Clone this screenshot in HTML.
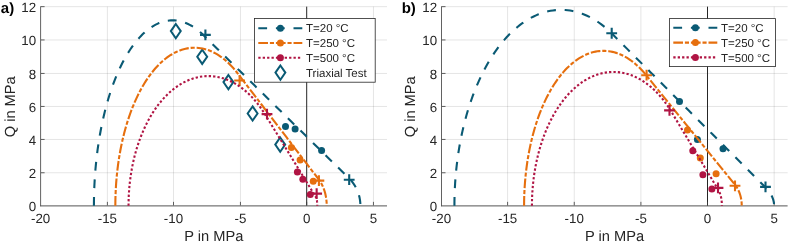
<!DOCTYPE html>
<html><head><meta charset="utf-8"><title>Yield surfaces</title>
<style>
html,body{margin:0;padding:0;background:#fff;}
svg{display:block;will-change:transform;transform:translateZ(0);}
text{font-family:"Liberation Sans",Arial,sans-serif;fill:#262626;text-rendering:geometricPrecision;}
.tk{font-size:13.33px;}
.lb{font-size:14.67px;}
.lg{font-size:11.5px;}
.pl{font-size:15px;font-weight:bold;fill:#000;}
.ax{fill:none;stroke:#3a3a3a;stroke-width:0.8;}
.gr{stroke:#262626;stroke-opacity:0.15;stroke-width:0.8;}
</style></head><body>
<svg width="789" height="243" viewBox="0 0 789 243">
<rect width="789" height="243" fill="#fff"/>
<line x1="107.4" y1="6.65" x2="107.4" y2="205.75" class="gr"/>
<line x1="173.5" y1="6.65" x2="173.5" y2="205.75" class="gr"/>
<line x1="240.45" y1="6.65" x2="240.45" y2="205.75" class="gr"/>
<line x1="373.45" y1="6.65" x2="373.45" y2="205.75" class="gr"/>
<line x1="40.6" y1="172.75" x2="387.0" y2="172.75" class="gr"/>
<line x1="40.6" y1="139.45" x2="387.0" y2="139.45" class="gr"/>
<line x1="40.6" y1="106.45" x2="387.0" y2="106.45" class="gr"/>
<line x1="40.6" y1="73.45" x2="387.0" y2="73.45" class="gr"/>
<line x1="40.6" y1="39.95" x2="387.0" y2="39.95" class="gr"/>
<line x1="40.6" y1="6.65" x2="387.0" y2="6.65" class="gr"/>
<line x1="306.7" y1="6.65" x2="306.7" y2="205.75" stroke="#262626" stroke-width="1"/>
<path d="M40.6,6.25V206.25" class="ax"/>
<path d="M40.2,205.9H387.0" fill="none" stroke="#555" stroke-width="1"/>
<line x1="107.4" y1="205.35" x2="107.4" y2="201.85" class="ax"/>
<line x1="173.5" y1="205.35" x2="173.5" y2="201.85" class="ax"/>
<line x1="240.45" y1="205.35" x2="240.45" y2="201.85" class="ax"/>
<line x1="306.7" y1="205.35" x2="306.7" y2="201.85" class="ax"/>
<line x1="373.45" y1="205.35" x2="373.45" y2="201.85" class="ax"/>
<line x1="41.0" y1="172.75" x2="44.6" y2="172.75" class="ax"/>
<line x1="41.0" y1="139.45" x2="44.6" y2="139.45" class="ax"/>
<line x1="41.0" y1="106.45" x2="44.6" y2="106.45" class="ax"/>
<line x1="41.0" y1="73.45" x2="44.6" y2="73.45" class="ax"/>
<line x1="41.0" y1="39.95" x2="44.6" y2="39.95" class="ax"/>
<line x1="41.0" y1="6.65" x2="44.6" y2="6.65" class="ax"/>
<path d="M175.80,24.00L180.75,31.10L175.80,38.20L170.85,31.10Z" stroke="#0a5a74" stroke-width="2.0" fill="none" stroke-linejoin="miter"/>
<path d="M202.20,49.70L207.15,56.80L202.20,63.90L197.25,56.80Z" stroke="#0a5a74" stroke-width="2.0" fill="none" stroke-linejoin="miter"/>
<path d="M228.40,75.00L233.35,82.10L228.40,89.20L223.45,82.10Z" stroke="#0a5a74" stroke-width="2.0" fill="none" stroke-linejoin="miter"/>
<path d="M252.60,106.40L257.55,113.50L252.60,120.60L247.65,113.50Z" stroke="#0a5a74" stroke-width="2.0" fill="none" stroke-linejoin="miter"/>
<path d="M280.20,137.50L285.15,144.60L280.20,151.70L275.25,144.60Z" stroke="#0a5a74" stroke-width="2.0" fill="none" stroke-linejoin="miter"/>
<path d="M93.92,205.75 L93.94,201.70 L94.00,197.65 L94.09,193.61 L94.22,189.57 L94.39,185.54 L94.60,181.52 L94.84,177.51 L95.12,173.52 L95.44,169.53 L95.79,165.57 L96.18,161.63 L96.61,157.71 L97.07,153.81 L97.57,149.93 L98.11,146.08 L98.68,142.26 L99.28,138.47 L99.92,134.71 L100.60,130.99 L101.31,127.30 L102.05,123.65 L102.83,120.04 L103.64,116.47 L104.48,112.94 L105.36,109.46 L106.27,106.02 L107.21,102.63 L108.18,99.29 L109.18,96.00 L110.21,92.76 L111.27,89.58 L112.36,86.45 L113.48,83.38 L114.63,80.36 L115.81,77.41 L117.01,74.52 L118.24,71.69 L119.49,68.92 L120.77,66.22 L122.08,63.59 L123.41,61.02 L124.76,58.53 L126.14,56.10 L127.53,53.74 L128.95,51.46 L130.39,49.25 L131.85,47.12 L133.33,45.06 L134.83,43.08 L136.34,41.17 L137.88,39.34 L139.43,37.60 L140.99,35.93 L142.57,34.35 L144.17,32.84 L145.78,31.42 L147.40,30.08 L149.03,28.83 L150.68,27.66 L152.33,26.57 L154.00,25.57 L155.67,24.66 L157.35,23.83 L159.04,23.09 L160.74,22.44 L162.44,21.87 L164.14,21.40 L165.85,21.01 L167.57,20.70 L169.28,20.49 L171.00,20.37 L172.72,20.33 L174.43,20.38 L176.15,20.52 L177.87,20.75 L179.58,21.06 L181.29,21.47 L182.99,21.96 L184.69,22.54 L186.39,23.21 L188.08,23.96 L189.76,24.81 L191.43,25.73 L193.09,26.75 L194.74,27.85 L196.39,29.03 L198.02,30.30 L199.64,31.65 L201.24,33.09 L202.84,34.60 L210.14,41.78 L217.45,48.96 L224.75,56.14 L232.06,63.32 L239.36,70.50 L246.67,77.68 L253.97,84.86 L261.28,92.04 L268.58,99.22 L275.89,106.40 L283.20,113.58 L290.50,120.76 L297.81,127.94 L305.11,135.12 L312.42,142.30 L319.72,149.48 L327.03,156.65 L334.33,163.83 L341.64,171.01 L348.94,178.19 L349.65,178.91 L350.35,179.65 L351.02,180.41 L351.67,181.18 L352.31,181.98 L352.92,182.79 L353.51,183.61 L354.07,184.46 L354.62,185.32 L355.14,186.19 L355.64,187.08 L356.12,187.98 L356.57,188.89 L357.00,189.82 L357.41,190.76 L357.79,191.71 L358.14,192.67 L358.47,193.64 L358.78,194.62 L359.05,195.60 L359.31,196.60 L359.53,197.60 L359.73,198.60 L359.91,199.61 L360.05,200.63 L360.17,201.65 L360.27,202.67 L360.34,203.70 L360.38,204.72 L360.39,205.75" fill="none" stroke="#0a5a74" stroke-width="2.1" stroke-dasharray="8.8 8.8"/>
<path d="M200.00,34.90H210.80M205.40,29.50V40.30" stroke="#0a5a74" stroke-width="2.1" fill="none"/>
<path d="M343.80,179.70H354.60M349.20,174.30V185.10" stroke="#0a5a74" stroke-width="2.1" fill="none"/>
<circle cx="285.50" cy="126.60" r="3.5" fill="#0a5a74"/>
<circle cx="295.10" cy="129.00" r="3.5" fill="#0a5a74"/>
<circle cx="321.60" cy="150.60" r="3.5" fill="#0a5a74"/>
<path d="M115.35,205.75 L115.37,201.97 L115.44,198.20 L115.56,194.43 L115.71,190.67 L115.92,186.91 L116.16,183.17 L116.46,179.44 L116.79,175.72 L117.17,172.02 L117.60,168.35 L118.07,164.69 L118.58,161.05 L119.14,157.44 L119.74,153.86 L120.38,150.31 L121.06,146.79 L121.79,143.30 L122.56,139.85 L123.37,136.44 L124.22,133.07 L125.11,129.73 L126.03,126.45 L127.00,123.20 L128.01,120.01 L129.05,116.86 L130.14,113.76 L131.25,110.72 L132.41,107.73 L133.60,104.79 L134.82,101.92 L136.08,99.10 L137.37,96.35 L138.70,93.65 L140.06,91.02 L141.44,88.46 L142.86,85.96 L144.31,83.53 L145.79,81.17 L147.29,78.89 L148.82,76.67 L150.38,74.53 L151.96,72.46 L153.57,70.47 L155.20,68.56 L156.85,66.72 L158.52,64.97 L160.21,63.29 L161.93,61.70 L163.66,60.19 L165.41,58.76 L167.18,57.41 L168.96,56.15 L170.76,54.98 L172.57,53.89 L174.39,52.89 L176.22,51.98 L178.07,51.15 L179.92,50.41 L181.78,49.76 L183.65,49.20 L185.53,48.73 L187.41,48.35 L189.29,48.06 L191.18,47.85 L193.07,47.74 L194.96,47.72 L196.85,47.79 L198.74,47.95 L200.62,48.20 L202.51,48.54 L204.39,48.97 L206.26,49.49 L208.12,50.09 L209.98,50.79 L211.83,51.57 L213.67,52.45 L215.50,53.41 L217.31,54.46 L219.12,55.59 L220.91,56.81 L222.68,58.11 L224.44,59.50 L226.18,60.98 L227.90,62.53 L229.60,64.17 L231.29,65.89 L232.95,67.68 L234.59,69.56 L236.21,71.52 L237.80,73.55 L241.84,78.83 L245.88,84.12 L249.92,89.40 L253.96,94.69 L258.00,99.97 L262.04,105.26 L266.08,110.54 L270.12,115.83 L274.16,121.11 L278.20,126.40 L282.24,131.68 L286.28,136.97 L290.32,142.25 L294.36,147.54 L298.40,152.82 L302.44,158.11 L306.48,163.39 L310.52,168.68 L314.56,173.96 L318.60,179.25 L319.10,179.93 L319.59,180.62 L320.06,181.34 L320.53,182.07 L320.97,182.83 L321.41,183.60 L321.83,184.39 L322.23,185.19 L322.62,186.02 L322.99,186.85 L323.34,187.70 L323.68,188.57 L324.00,189.45 L324.31,190.34 L324.59,191.25 L324.86,192.16 L325.12,193.09 L325.35,194.02 L325.57,194.97 L325.76,195.92 L325.94,196.88 L326.11,197.85 L326.25,198.82 L326.37,199.80 L326.48,200.79 L326.56,201.77 L326.63,202.77 L326.68,203.76 L326.71,204.75 L326.71,205.75" fill="none" stroke="#e66f0e" stroke-width="2.1" stroke-dasharray="9.7 1.9 4.1 1.9"/>
<path d="M234.20,80.50H245.00M239.60,75.10V85.90" stroke="#e66f0e" stroke-width="2.1" fill="none"/>
<path d="M313.50,180.60H324.30M318.90,175.20V186.00" stroke="#e66f0e" stroke-width="2.1" fill="none"/>
<circle cx="291.40" cy="147.50" r="3.5" fill="#e66f0e"/>
<circle cx="300.10" cy="160.00" r="3.5" fill="#e66f0e"/>
<circle cx="313.25" cy="181.30" r="3.5" fill="#e66f0e"/>
<path d="M128.53,205.75 L128.56,202.35 L128.64,198.96 L128.78,195.57 L128.97,192.19 L129.21,188.82 L129.51,185.46 L129.87,182.11 L130.28,178.78 L130.74,175.47 L131.25,172.18 L131.82,168.91 L132.44,165.67 L133.11,162.45 L133.84,159.27 L134.61,156.11 L135.44,152.99 L136.32,149.91 L137.24,146.86 L138.22,143.86 L139.24,140.90 L140.31,137.98 L141.42,135.11 L142.59,132.28 L143.80,129.51 L145.05,126.79 L146.34,124.13 L147.68,121.52 L149.06,118.96 L150.48,116.47 L151.94,114.04 L153.44,111.67 L154.98,109.37 L156.55,107.13 L158.16,104.96 L159.80,102.86 L161.48,100.83 L163.19,98.87 L164.93,96.98 L166.70,95.17 L168.49,93.44 L170.32,91.78 L172.17,90.20 L174.05,88.70 L175.95,87.28 L177.87,85.94 L179.81,84.69 L181.77,83.51 L183.76,82.42 L185.75,81.42 L187.77,80.50 L189.79,79.67 L191.84,78.92 L193.89,78.26 L195.95,77.69 L198.02,77.20 L200.10,76.80 L202.18,76.50 L204.27,76.28 L206.36,76.15 L208.45,76.10 L210.54,76.15 L212.63,76.29 L214.72,76.51 L216.80,76.83 L218.88,77.23 L220.94,77.72 L223.01,78.30 L225.06,78.96 L227.10,79.71 L229.12,80.55 L231.14,81.48 L233.13,82.49 L235.11,83.58 L237.07,84.76 L239.02,86.02 L240.94,87.37 L242.84,88.79 L244.71,90.30 L246.56,91.88 L248.38,93.54 L250.18,95.28 L251.95,97.10 L253.69,98.99 L255.39,100.95 L257.07,102.99 L258.71,105.09 L260.31,107.27 L261.89,109.51 L263.42,111.82 L264.92,114.19 L267.47,118.35 L270.03,122.51 L272.59,126.68 L275.15,130.84 L277.70,135.00 L280.26,139.17 L282.82,143.33 L285.38,147.49 L287.93,151.65 L290.49,155.82 L293.05,159.98 L295.61,164.14 L298.16,168.30 L300.72,172.47 L303.28,176.63 L305.84,180.79 L308.39,184.95 L310.95,189.12 L313.51,193.28 L316.07,197.44 L316.14,197.56 L316.20,197.70 L316.27,197.84 L316.33,198.01 L316.40,198.18 L316.46,198.37 L316.52,198.57 L316.58,198.79 L316.64,199.01 L316.69,199.25 L316.74,199.50 L316.79,199.77 L316.84,200.04 L316.89,200.32 L316.93,200.61 L316.98,200.91 L317.01,201.22 L317.05,201.54 L317.08,201.86 L317.11,202.19 L317.14,202.53 L317.17,202.87 L317.19,203.22 L317.21,203.57 L317.23,203.93 L317.24,204.29 L317.25,204.65 L317.26,205.02 L317.26,205.38 L317.26,205.75" fill="none" stroke="#b01443" stroke-width="2.1" stroke-dasharray="2.3 2.1"/>
<path d="M261.60,114.10H272.40M267.00,108.70V119.50" stroke="#b01443" stroke-width="2.1" fill="none"/>
<path d="M311.25,193.65H322.05M316.65,188.25V199.05" stroke="#b01443" stroke-width="2.1" fill="none"/>
<circle cx="297.40" cy="171.90" r="3.5" fill="#b01443"/>
<circle cx="302.85" cy="179.35" r="3.5" fill="#b01443"/>
<circle cx="310.30" cy="194.60" r="3.5" fill="#b01443"/>
<text x="40.60" y="222.7" text-anchor="middle" class="tk">-20</text>
<text x="107.40" y="222.7" text-anchor="middle" class="tk">-15</text>
<text x="173.50" y="222.7" text-anchor="middle" class="tk">-10</text>
<text x="240.45" y="222.7" text-anchor="middle" class="tk">-5</text>
<text x="306.70" y="222.7" text-anchor="middle" class="tk">0</text>
<text x="373.45" y="222.7" text-anchor="middle" class="tk">5</text>
<text x="36.20" y="210.85" text-anchor="end" class="tk">0</text>
<text x="36.20" y="177.85" text-anchor="end" class="tk">2</text>
<text x="36.20" y="144.55" text-anchor="end" class="tk">4</text>
<text x="36.20" y="111.55" text-anchor="end" class="tk">6</text>
<text x="36.20" y="78.55" text-anchor="end" class="tk">8</text>
<text x="36.20" y="45.05" text-anchor="end" class="tk">10</text>
<text x="36.20" y="11.75" text-anchor="end" class="tk">12</text>
<text x="213.80" y="240.9" text-anchor="middle" class="lb">P in MPa</text>
<text transform="translate(14.50,106.80) rotate(-90)" text-anchor="middle" class="lb">Q in MPa</text>
<text x="0.80" y="12.5" class="pl">a)</text>
<rect x="254.4" y="18.5" width="120.8" height="63.7" fill="#fff" stroke="#262626" stroke-width="0.8"/>
<path d="M258.30,28.20H302.30" stroke="#0a5a74" stroke-width="2.1" stroke-dasharray="8.8 8.8"/>
<circle cx="280.40" cy="28.20" r="3.5" fill="#0a5a74"/>
<text x="306.00" y="32.30" class="lg">T=20 °C</text>
<path d="M258.30,43.00H302.30" stroke="#e66f0e" stroke-width="2.1" stroke-dasharray="9.7 1.9 4.1 1.9"/>
<circle cx="280.40" cy="43.00" r="3.5" fill="#e66f0e"/>
<text x="306.00" y="47.10" class="lg">T=250 °C</text>
<path d="M258.30,57.80H302.30" stroke="#b01443" stroke-width="2.1" stroke-dasharray="2.3 2.1"/>
<circle cx="280.40" cy="57.80" r="3.5" fill="#b01443"/>
<text x="306.00" y="61.90" class="lg">T=500 °C</text>
<path d="M280.40,65.50L285.35,72.60L280.40,79.70L275.45,72.60Z" stroke="#0a5a74" stroke-width="2.0" fill="none" stroke-linejoin="miter"/>
<text x="306.00" y="76.70" class="lg">Triaxial Test</text>
<line x1="507.6" y1="6.65" x2="507.6" y2="205.75" class="gr"/>
<line x1="574.25" y1="6.65" x2="574.25" y2="205.75" class="gr"/>
<line x1="640.9" y1="6.65" x2="640.9" y2="205.75" class="gr"/>
<line x1="774.15" y1="6.65" x2="774.15" y2="205.75" class="gr"/>
<line x1="441.5" y1="172.75" x2="787.6" y2="172.75" class="gr"/>
<line x1="441.5" y1="139.45" x2="787.6" y2="139.45" class="gr"/>
<line x1="441.5" y1="106.45" x2="787.6" y2="106.45" class="gr"/>
<line x1="441.5" y1="73.45" x2="787.6" y2="73.45" class="gr"/>
<line x1="441.5" y1="39.95" x2="787.6" y2="39.95" class="gr"/>
<line x1="441.5" y1="6.65" x2="787.6" y2="6.65" class="gr"/>
<line x1="707.5" y1="6.65" x2="707.5" y2="205.75" stroke="#262626" stroke-width="1"/>
<path d="M441.5,6.25V206.25" class="ax"/>
<path d="M441.1,205.9H787.6" fill="none" stroke="#555" stroke-width="1"/>
<line x1="507.6" y1="205.35" x2="507.6" y2="201.85" class="ax"/>
<line x1="574.25" y1="205.35" x2="574.25" y2="201.85" class="ax"/>
<line x1="640.9" y1="205.35" x2="640.9" y2="201.85" class="ax"/>
<line x1="707.5" y1="205.35" x2="707.5" y2="201.85" class="ax"/>
<line x1="774.15" y1="205.35" x2="774.15" y2="201.85" class="ax"/>
<line x1="441.9" y1="172.75" x2="445.5" y2="172.75" class="ax"/>
<line x1="441.9" y1="139.45" x2="445.5" y2="139.45" class="ax"/>
<line x1="441.9" y1="106.45" x2="445.5" y2="106.45" class="ax"/>
<line x1="441.9" y1="73.45" x2="445.5" y2="73.45" class="ax"/>
<line x1="441.9" y1="39.95" x2="445.5" y2="39.95" class="ax"/>
<line x1="441.9" y1="6.65" x2="445.5" y2="6.65" class="ax"/>
<path d="M454.42,205.75 L454.45,201.25 L454.53,196.74 L454.67,192.25 L454.87,187.76 L455.12,183.27 L455.43,178.81 L455.80,174.35 L456.22,169.91 L456.70,165.49 L457.23,161.10 L457.81,156.72 L458.46,152.37 L459.15,148.05 L459.90,143.76 L460.70,139.51 L461.56,135.28 L462.47,131.10 L463.43,126.96 L464.44,122.85 L465.50,118.79 L466.62,114.78 L467.78,110.81 L468.99,106.90 L470.26,103.04 L471.57,99.23 L472.92,95.48 L474.33,91.78 L475.78,88.15 L477.27,84.58 L478.81,81.07 L480.39,77.63 L482.02,74.25 L483.68,70.95 L485.39,67.72 L487.14,64.56 L488.93,61.47 L490.75,58.46 L492.61,55.53 L494.51,52.68 L496.45,49.91 L498.41,47.22 L500.42,44.62 L502.45,42.10 L504.51,39.67 L506.61,37.32 L508.73,35.07 L510.88,32.90 L513.06,30.83 L515.26,28.85 L517.49,26.96 L519.74,25.17 L522.01,23.47 L524.30,21.87 L526.61,20.37 L528.94,18.96 L531.29,17.65 L533.65,16.45 L536.03,15.34 L538.42,14.33 L540.82,13.43 L543.23,12.62 L545.66,11.92 L548.09,11.32 L550.52,10.83 L552.97,10.43 L555.41,10.14 L557.86,9.96 L560.32,9.87 L562.77,9.90 L565.22,10.02 L567.67,10.25 L570.11,10.58 L572.55,11.01 L574.99,11.55 L577.42,12.19 L579.84,12.93 L582.24,13.78 L584.64,14.73 L587.03,15.77 L589.40,16.92 L591.75,18.17 L594.09,19.52 L596.42,20.96 L598.72,22.50 L601.01,24.14 L603.27,25.88 L605.51,27.71 L607.73,29.64 L609.92,31.66 L612.08,33.77 L619.75,41.45 L627.42,49.12 L635.09,56.80 L642.76,64.48 L650.42,72.16 L658.09,79.84 L665.76,87.52 L673.43,95.20 L681.10,102.88 L688.76,110.56 L696.43,118.24 L704.10,125.92 L711.77,133.60 L719.43,141.28 L727.10,148.96 L734.77,156.63 L742.44,164.31 L750.11,171.99 L757.77,179.67 L765.44,187.35 L766.00,187.92 L766.54,188.50 L767.06,189.07 L767.57,189.66 L768.05,190.24 L768.52,190.83 L768.97,191.43 L769.40,192.02 L769.82,192.62 L770.21,193.23 L770.59,193.83 L770.95,194.44 L771.28,195.06 L771.60,195.67 L771.91,196.29 L772.19,196.91 L772.45,197.53 L772.69,198.16 L772.92,198.78 L773.12,199.41 L773.31,200.04 L773.47,200.67 L773.62,201.30 L773.75,201.94 L773.86,202.57 L773.94,203.21 L774.01,203.84 L774.06,204.48 L774.09,205.11 L774.10,205.75" fill="none" stroke="#0a5a74" stroke-width="2.1" stroke-dasharray="8.8 8.8"/>
<path d="M606.30,33.25H617.10M611.70,27.85V38.65" stroke="#0a5a74" stroke-width="2.1" fill="none"/>
<path d="M760.10,186.90H770.90M765.50,181.50V192.30" stroke="#0a5a74" stroke-width="2.1" fill="none"/>
<circle cx="679.50" cy="101.60" r="3.5" fill="#0a5a74"/>
<circle cx="697.40" cy="139.40" r="3.5" fill="#0a5a74"/>
<circle cx="723.00" cy="148.80" r="3.5" fill="#0a5a74"/>
<path d="M524.08,205.75 L524.11,202.08 L524.17,198.41 L524.28,194.74 L524.44,191.08 L524.64,187.43 L524.89,183.78 L525.18,180.15 L525.51,176.54 L525.89,172.94 L526.31,169.36 L526.77,165.80 L527.28,162.26 L527.83,158.75 L528.42,155.26 L529.05,151.80 L529.73,148.38 L530.45,144.98 L531.21,141.62 L532.01,138.29 L532.85,135.01 L533.73,131.76 L534.65,128.55 L535.60,125.39 L536.60,122.27 L537.63,119.20 L538.70,116.18 L539.81,113.21 L540.95,110.29 L542.13,107.42 L543.34,104.61 L544.59,101.86 L545.87,99.17 L547.18,96.53 L548.52,93.96 L549.90,91.45 L551.30,89.00 L552.74,86.62 L554.20,84.31 L555.69,82.06 L557.21,79.88 L558.75,77.78 L560.32,75.75 L561.91,73.79 L563.52,71.90 L565.16,70.09 L566.82,68.36 L568.50,66.70 L570.20,65.12 L571.92,63.62 L573.66,62.20 L575.41,60.86 L577.18,59.61 L578.96,58.43 L580.76,57.34 L582.57,56.33 L584.39,55.41 L586.23,54.57 L588.07,53.81 L589.92,53.14 L591.78,52.56 L593.64,52.06 L595.51,51.65 L597.39,51.33 L599.27,51.09 L601.15,50.94 L603.03,50.87 L604.91,50.90 L606.80,51.01 L608.68,51.21 L610.55,51.49 L612.43,51.86 L614.29,52.32 L616.16,52.87 L618.01,53.50 L619.86,54.21 L621.69,55.01 L623.52,55.90 L625.34,56.87 L627.14,57.92 L628.93,59.06 L630.71,60.28 L632.47,61.58 L634.21,62.97 L635.94,64.43 L637.65,65.97 L639.34,67.59 L641.00,69.29 L642.65,71.07 L644.28,72.92 L645.88,74.85 L650.34,80.35 L654.80,85.85 L659.26,91.35 L663.72,96.85 L668.18,102.36 L672.64,107.86 L677.10,113.36 L681.56,118.86 L686.02,124.37 L690.48,129.87 L694.94,135.37 L699.40,140.87 L703.86,146.37 L708.32,151.88 L712.77,157.38 L717.23,162.88 L721.69,168.38 L726.15,173.88 L730.61,179.39 L735.07,184.89 L735.48,185.41 L735.88,185.95 L736.27,186.50 L736.65,187.08 L737.02,187.66 L737.37,188.26 L737.72,188.88 L738.05,189.51 L738.36,190.15 L738.67,190.81 L738.96,191.48 L739.24,192.16 L739.50,192.85 L739.75,193.55 L739.99,194.27 L740.21,194.99 L740.42,195.72 L740.61,196.46 L740.79,197.21 L740.95,197.96 L741.10,198.72 L741.23,199.49 L741.35,200.26 L741.45,201.03 L741.54,201.81 L741.61,202.60 L741.66,203.38 L741.70,204.17 L741.72,204.96 L741.73,205.75" fill="none" stroke="#e66f0e" stroke-width="2.1" stroke-dasharray="9.7 1.9 4.1 1.9"/>
<path d="M641.20,75.20H652.00M646.60,69.80V80.60" stroke="#e66f0e" stroke-width="2.1" fill="none"/>
<path d="M729.60,185.80H740.40M735.00,180.40V191.20" stroke="#e66f0e" stroke-width="2.1" fill="none"/>
<circle cx="687.50" cy="130.10" r="3.5" fill="#e66f0e"/>
<circle cx="700.30" cy="157.90" r="3.5" fill="#e66f0e"/>
<circle cx="716.10" cy="173.70" r="3.5" fill="#e66f0e"/>
<path d="M531.94,205.75 L531.97,202.24 L532.05,198.73 L532.19,195.22 L532.39,191.72 L532.64,188.24 L532.95,184.76 L533.31,181.30 L533.73,177.85 L534.21,174.43 L534.73,171.02 L535.32,167.64 L535.95,164.29 L536.64,160.96 L537.38,157.67 L538.18,154.41 L539.03,151.18 L539.92,147.99 L540.87,144.84 L541.87,141.74 L542.92,138.68 L544.02,135.66 L545.16,132.69 L546.35,129.77 L547.59,126.91 L548.87,124.10 L550.20,121.34 L551.57,118.65 L552.98,116.01 L554.44,113.44 L555.93,110.93 L557.47,108.48 L559.04,106.10 L560.66,103.79 L562.30,101.55 L563.99,99.39 L565.70,97.29 L567.45,95.27 L569.24,93.33 L571.05,91.46 L572.89,89.68 L574.76,87.97 L576.66,86.34 L578.58,84.80 L580.52,83.34 L582.49,81.96 L584.48,80.67 L586.49,79.47 L588.52,78.35 L590.56,77.32 L592.62,76.38 L594.70,75.53 L596.79,74.77 L598.89,74.10 L601.00,73.52 L603.11,73.03 L605.24,72.63 L607.37,72.32 L609.50,72.11 L611.64,71.99 L613.78,71.96 L615.92,72.02 L618.06,72.17 L620.19,72.42 L622.32,72.76 L624.44,73.19 L626.56,73.71 L628.66,74.32 L630.76,75.02 L632.84,75.82 L634.91,76.70 L636.97,77.67 L639.01,78.73 L641.03,79.88 L643.03,81.11 L645.01,82.43 L646.97,83.84 L648.91,85.33 L650.82,86.90 L652.71,88.55 L654.57,90.29 L656.40,92.10 L658.20,94.00 L659.97,95.97 L661.71,98.01 L663.42,100.13 L665.09,102.32 L666.73,104.59 L668.32,106.92 L669.89,109.32 L671.41,111.79 L673.76,115.72 L676.12,119.64 L678.48,123.57 L680.84,127.49 L683.19,131.42 L685.55,135.34 L687.91,139.27 L690.27,143.19 L692.62,147.12 L694.98,151.04 L697.34,154.97 L699.70,158.89 L702.05,162.82 L704.41,166.74 L706.77,170.67 L709.13,174.59 L711.48,178.52 L713.84,182.44 L716.20,186.37 L718.56,190.29 L718.76,190.64 L718.95,191.01 L719.15,191.38 L719.33,191.78 L719.52,192.19 L719.69,192.61 L719.86,193.05 L720.03,193.50 L720.19,193.97 L720.34,194.44 L720.48,194.93 L720.62,195.43 L720.76,195.94 L720.88,196.47 L721.00,197.00 L721.11,197.54 L721.22,198.09 L721.32,198.65 L721.41,199.21 L721.49,199.78 L721.56,200.36 L721.63,200.95 L721.69,201.54 L721.74,202.13 L721.79,202.73 L721.82,203.33 L721.85,203.93 L721.87,204.54 L721.88,205.14 L721.89,205.75" fill="none" stroke="#b01443" stroke-width="2.1" stroke-dasharray="2.3 2.1"/>
<path d="M664.10,110.40H674.90M669.50,105.00V115.80" stroke="#b01443" stroke-width="2.1" fill="none"/>
<path d="M712.60,187.90H723.40M718.00,182.50V193.30" stroke="#b01443" stroke-width="2.1" fill="none"/>
<circle cx="692.80" cy="150.80" r="3.5" fill="#b01443"/>
<circle cx="702.90" cy="174.80" r="3.5" fill="#b01443"/>
<circle cx="711.90" cy="189.00" r="3.5" fill="#b01443"/>
<text x="441.50" y="222.7" text-anchor="middle" class="tk">-20</text>
<text x="507.60" y="222.7" text-anchor="middle" class="tk">-15</text>
<text x="574.25" y="222.7" text-anchor="middle" class="tk">-10</text>
<text x="640.90" y="222.7" text-anchor="middle" class="tk">-5</text>
<text x="707.50" y="222.7" text-anchor="middle" class="tk">0</text>
<text x="774.15" y="222.7" text-anchor="middle" class="tk">5</text>
<text x="437.10" y="210.85" text-anchor="end" class="tk">0</text>
<text x="437.10" y="177.85" text-anchor="end" class="tk">2</text>
<text x="437.10" y="144.55" text-anchor="end" class="tk">4</text>
<text x="437.10" y="111.55" text-anchor="end" class="tk">6</text>
<text x="437.10" y="78.55" text-anchor="end" class="tk">8</text>
<text x="437.10" y="45.05" text-anchor="end" class="tk">10</text>
<text x="437.10" y="11.75" text-anchor="end" class="tk">12</text>
<text x="614.55" y="240.9" text-anchor="middle" class="lb">P in MPa</text>
<text transform="translate(415.40,106.80) rotate(-90)" text-anchor="middle" class="lb">Q in MPa</text>
<text x="401.70" y="12.5" class="pl">b)</text>
<rect x="669.4" y="18.6" width="106.1" height="48.0" fill="#fff" stroke="#262626" stroke-width="0.8"/>
<path d="M673.30,27.80H717.30" stroke="#0a5a74" stroke-width="2.1" stroke-dasharray="8.8 8.8"/>
<circle cx="695.40" cy="27.80" r="3.5" fill="#0a5a74"/>
<text x="721.00" y="31.90" class="lg">T=20 °C</text>
<path d="M673.30,42.60H717.30" stroke="#e66f0e" stroke-width="2.1" stroke-dasharray="9.7 1.9 4.1 1.9"/>
<circle cx="695.40" cy="42.60" r="3.5" fill="#e66f0e"/>
<text x="721.00" y="46.70" class="lg">T=250 °C</text>
<path d="M673.30,57.40H717.30" stroke="#b01443" stroke-width="2.1" stroke-dasharray="2.3 2.1"/>
<circle cx="695.40" cy="57.40" r="3.5" fill="#b01443"/>
<text x="721.00" y="61.50" class="lg">T=500 °C</text>
</svg>
</body></html>
